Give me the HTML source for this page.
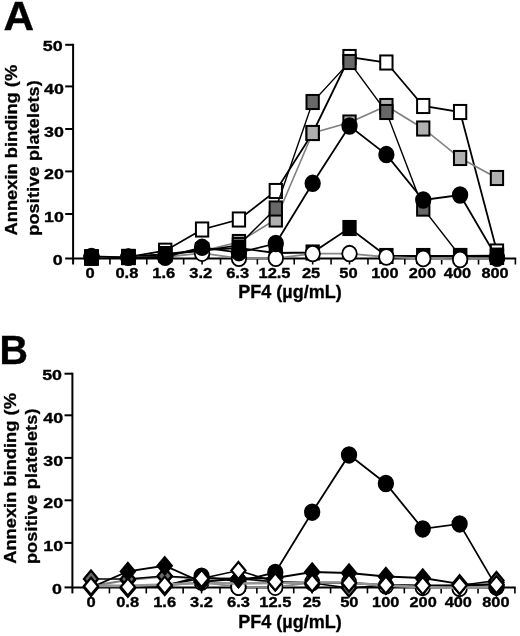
<!DOCTYPE html>
<html><head><meta charset="utf-8"><title>Figure</title>
<style>
html,body{margin:0;padding:0;background:#fff;}
svg{display:block;}
text{font-family:"Liberation Sans",Arial,sans-serif;font-weight:bold;fill:#000;}
.t{font-size:15px;stroke:#000;stroke-width:0.35px;}
.ty{font-size:15px;stroke:#000;stroke-width:0.35px;}
.l{font-size:18px;stroke:#000;stroke-width:0.3px;}
.big{font-size:40.5px;stroke:#000;stroke-width:0.4px;}
</style></head><body>
<svg width="520" height="636" viewBox="0 0 520 636">
<rect width="520" height="636" fill="#fff"/>
<line x1="73.1" y1="43.80" x2="73.1" y2="264.5" stroke="#000" stroke-width="2"/>
<line x1="72.20" y1="258.5" x2="516.20" y2="258.5" stroke="#000" stroke-width="2"/>
<line x1="65.20" y1="258.50" x2="73.1" y2="258.50" stroke="#000" stroke-width="2"/>
<text transform="translate(62.70 264.90) scale(1.19 1)" text-anchor="end" class="ty">0</text>
<line x1="65.20" y1="214.00" x2="73.1" y2="214.00" stroke="#000" stroke-width="2"/>
<text transform="translate(63.90 222.15) scale(1.19 1)" text-anchor="end" class="ty">10</text>
<line x1="65.20" y1="171.40" x2="73.1" y2="171.40" stroke="#000" stroke-width="2"/>
<text transform="translate(63.90 179.40) scale(1.19 1)" text-anchor="end" class="ty">20</text>
<line x1="65.20" y1="129.00" x2="73.1" y2="129.00" stroke="#000" stroke-width="2"/>
<text transform="translate(63.90 136.65) scale(1.19 1)" text-anchor="end" class="ty">30</text>
<line x1="65.20" y1="86.40" x2="73.1" y2="86.40" stroke="#000" stroke-width="2"/>
<text transform="translate(63.90 93.90) scale(1.19 1)" text-anchor="end" class="ty">40</text>
<line x1="65.20" y1="44.80" x2="73.1" y2="44.80" stroke="#000" stroke-width="2"/>
<text transform="translate(62.70 51.15) scale(1.19 1)" text-anchor="end" class="ty">50</text>
<line x1="91.50" y1="258.5" x2="91.50" y2="264.5" stroke="#000" stroke-width="1.6"/>
<line x1="109.93" y1="258.5" x2="109.93" y2="264.5" stroke="#000" stroke-width="1.6"/>
<line x1="128.36" y1="258.5" x2="128.36" y2="264.5" stroke="#000" stroke-width="1.6"/>
<line x1="146.79" y1="258.5" x2="146.79" y2="264.5" stroke="#000" stroke-width="1.6"/>
<line x1="165.22" y1="258.5" x2="165.22" y2="264.5" stroke="#000" stroke-width="1.6"/>
<line x1="183.65" y1="258.5" x2="183.65" y2="264.5" stroke="#000" stroke-width="1.6"/>
<line x1="202.08" y1="258.5" x2="202.08" y2="264.5" stroke="#000" stroke-width="1.6"/>
<line x1="220.51" y1="258.5" x2="220.51" y2="264.5" stroke="#000" stroke-width="1.6"/>
<line x1="238.94" y1="258.5" x2="238.94" y2="264.5" stroke="#000" stroke-width="1.6"/>
<line x1="257.37" y1="258.5" x2="257.37" y2="264.5" stroke="#000" stroke-width="1.6"/>
<line x1="275.80" y1="258.5" x2="275.80" y2="264.5" stroke="#000" stroke-width="1.6"/>
<line x1="294.23" y1="258.5" x2="294.23" y2="264.5" stroke="#000" stroke-width="1.6"/>
<line x1="312.66" y1="258.5" x2="312.66" y2="264.5" stroke="#000" stroke-width="1.6"/>
<line x1="331.09" y1="258.5" x2="331.09" y2="264.5" stroke="#000" stroke-width="1.6"/>
<line x1="349.52" y1="258.5" x2="349.52" y2="264.5" stroke="#000" stroke-width="1.6"/>
<line x1="367.95" y1="258.5" x2="367.95" y2="264.5" stroke="#000" stroke-width="1.6"/>
<line x1="386.38" y1="258.5" x2="386.38" y2="264.5" stroke="#000" stroke-width="1.6"/>
<line x1="404.81" y1="258.5" x2="404.81" y2="264.5" stroke="#000" stroke-width="1.6"/>
<line x1="423.24" y1="258.5" x2="423.24" y2="264.5" stroke="#000" stroke-width="1.6"/>
<line x1="441.67" y1="258.5" x2="441.67" y2="264.5" stroke="#000" stroke-width="1.6"/>
<line x1="460.10" y1="258.5" x2="460.10" y2="264.5" stroke="#000" stroke-width="1.6"/>
<line x1="478.53" y1="258.5" x2="478.53" y2="264.5" stroke="#000" stroke-width="1.6"/>
<line x1="496.96" y1="258.5" x2="496.96" y2="264.5" stroke="#000" stroke-width="1.6"/>
<line x1="515.39" y1="258.5" x2="515.39" y2="264.5" stroke="#000" stroke-width="1.6"/>
<text transform="translate(90.20 278.10) scale(1.1 1)" text-anchor="middle" class="t">0</text>
<text transform="translate(126.86 278.10) scale(1.1 1)" text-anchor="middle" class="t">0.8</text>
<text transform="translate(163.82 278.10) scale(1.1 1)" text-anchor="middle" class="t">1.6</text>
<text transform="translate(200.68 278.10) scale(1.1 1)" text-anchor="middle" class="t">3.2</text>
<text transform="translate(237.64 278.10) scale(1.1 1)" text-anchor="middle" class="t">6.3</text>
<text transform="translate(274.50 278.10) scale(1.1 1)" text-anchor="middle" class="t">12.5</text>
<text transform="translate(311.06 278.10) scale(1.1 1)" text-anchor="middle" class="t">25</text>
<text transform="translate(348.52 278.10) scale(1.1 1)" text-anchor="middle" class="t">50</text>
<text transform="translate(384.88 278.10) scale(1.09 1)" text-anchor="middle" class="t">100</text>
<text transform="translate(422.34 278.10) scale(1.09 1)" text-anchor="middle" class="t">200</text>
<text transform="translate(457.50 278.10) scale(1.09 1)" text-anchor="middle" class="t">400</text>
<text transform="translate(495.06 278.10) scale(1.09 1)" text-anchor="middle" class="t">800</text>
<text x="290" y="298.20" text-anchor="middle" class="l">PF4 (µg/mL)</text>
<text transform="translate(17.10 235.50) rotate(-90) scale(1.052 1)" class="l" style="font-size:17.4px">Annexin binding (%</text>
<text transform="translate(39.20 235.80) rotate(-90) scale(1.034 1)" class="l" style="font-size:17.4px;letter-spacing:0.2px">positive platelets)</text>
<text transform="translate(3.4 30.2) scale(1.045 1)" class="big">A</text>
<polyline fill="none" stroke="#000" stroke-width="1.8" points="91.50,257.50 128.36,257.00 165.22,250.70 202.08,229.50 238.94,219.50 275.80,191.00 312.66,133.00 349.52,57.00 386.38,62.50 423.24,106.00 460.10,112.00 496.96,251.50"/><rect x="85.35" y="250.45" width="12.3" height="14.1" fill="#fff" stroke="#000" stroke-width="2.0"/><rect x="122.21" y="249.95" width="12.3" height="14.1" fill="#fff" stroke="#000" stroke-width="2.0"/><rect x="159.07" y="243.65" width="12.3" height="14.1" fill="#fff" stroke="#000" stroke-width="2.0"/><rect x="195.93" y="222.45" width="12.3" height="14.1" fill="#fff" stroke="#000" stroke-width="2.0"/><rect x="232.79" y="212.45" width="12.3" height="14.1" fill="#fff" stroke="#000" stroke-width="2.0"/><rect x="269.65" y="183.95" width="12.3" height="14.1" fill="#fff" stroke="#000" stroke-width="2.0"/><rect x="306.51" y="125.95" width="12.3" height="14.1" fill="#fff" stroke="#000" stroke-width="2.0"/><rect x="343.37" y="49.95" width="12.3" height="14.1" fill="#fff" stroke="#000" stroke-width="2.0"/><rect x="380.23" y="55.45" width="12.3" height="14.1" fill="#fff" stroke="#000" stroke-width="2.0"/><rect x="417.09" y="98.95" width="12.3" height="14.1" fill="#fff" stroke="#000" stroke-width="2.0"/><rect x="453.95" y="104.95" width="12.3" height="14.1" fill="#fff" stroke="#000" stroke-width="2.0"/><rect x="490.81" y="244.45" width="12.3" height="14.1" fill="#fff" stroke="#000" stroke-width="2.0"/>
<polyline fill="none" stroke="#808080" stroke-width="1.6" points="91.50,257.50 128.36,257.00 165.22,254.20 202.08,251.00 238.94,242.00 275.80,219.50 312.66,133.00 349.52,122.50 386.38,106.00 423.24,128.50 460.10,158.00 496.96,178.00"/><rect x="85.35" y="250.45" width="12.3" height="14.1" fill="#b0b0b0" stroke="#000" stroke-width="2.0"/><rect x="122.21" y="249.95" width="12.3" height="14.1" fill="#b0b0b0" stroke="#000" stroke-width="2.0"/><rect x="159.07" y="247.15" width="12.3" height="14.1" fill="#b0b0b0" stroke="#000" stroke-width="2.0"/><rect x="195.93" y="243.95" width="12.3" height="14.1" fill="#b0b0b0" stroke="#000" stroke-width="2.0"/><rect x="232.79" y="234.95" width="12.3" height="14.1" fill="#b0b0b0" stroke="#000" stroke-width="2.0"/><rect x="269.65" y="212.45" width="12.3" height="14.1" fill="#b0b0b0" stroke="#000" stroke-width="2.0"/><rect x="306.51" y="125.95" width="12.3" height="14.1" fill="#b0b0b0" stroke="#000" stroke-width="2.0"/><rect x="343.37" y="115.45" width="12.3" height="14.1" fill="#b0b0b0" stroke="#000" stroke-width="2.0"/><rect x="380.23" y="98.95" width="12.3" height="14.1" fill="#b0b0b0" stroke="#000" stroke-width="2.0"/><rect x="417.09" y="121.45" width="12.3" height="14.1" fill="#b0b0b0" stroke="#000" stroke-width="2.0"/><rect x="453.95" y="150.95" width="12.3" height="14.1" fill="#b0b0b0" stroke="#000" stroke-width="2.0"/><rect x="490.81" y="170.95" width="12.3" height="14.1" fill="#b0b0b0" stroke="#000" stroke-width="2.0"/>
<polyline fill="none" stroke="#000" stroke-width="1.4" points="91.50,257.50 128.36,257.00 165.22,254.20 202.08,251.00 238.94,245.00 275.80,208.50 312.66,102.00 349.52,62.00 386.38,112.00 423.24,208.60 460.10,256.00 496.96,257.00"/><rect x="85.35" y="250.45" width="12.3" height="14.1" fill="#686868" stroke="#000" stroke-width="2.0"/><rect x="122.21" y="249.95" width="12.3" height="14.1" fill="#686868" stroke="#000" stroke-width="2.0"/><rect x="159.07" y="247.15" width="12.3" height="14.1" fill="#686868" stroke="#000" stroke-width="2.0"/><rect x="195.93" y="243.95" width="12.3" height="14.1" fill="#686868" stroke="#000" stroke-width="2.0"/><rect x="232.79" y="237.95" width="12.3" height="14.1" fill="#686868" stroke="#000" stroke-width="2.0"/><rect x="269.65" y="201.45" width="12.3" height="14.1" fill="#686868" stroke="#000" stroke-width="2.0"/><rect x="306.51" y="94.95" width="12.3" height="14.1" fill="#686868" stroke="#000" stroke-width="2.0"/><rect x="343.37" y="54.95" width="12.3" height="14.1" fill="#686868" stroke="#000" stroke-width="2.0"/><rect x="380.23" y="104.95" width="12.3" height="14.1" fill="#686868" stroke="#000" stroke-width="2.0"/><rect x="417.09" y="201.55" width="12.3" height="14.1" fill="#686868" stroke="#000" stroke-width="2.0"/><rect x="453.95" y="248.95" width="12.3" height="14.1" fill="#686868" stroke="#000" stroke-width="2.0"/><rect x="490.81" y="249.95" width="12.3" height="14.1" fill="#686868" stroke="#000" stroke-width="2.0"/>
<polyline fill="none" stroke="#000" stroke-width="1.8" points="91.50,257.50 128.36,257.00 165.22,254.20 202.08,250.00 238.94,248.00 275.80,253.00 312.66,252.50 349.52,228.00 386.38,256.00 423.24,256.00 460.10,256.00 496.96,255.60"/><rect x="85.35" y="250.45" width="12.3" height="14.1" fill="#000" stroke="#000" stroke-width="2.0"/><rect x="122.21" y="249.95" width="12.3" height="14.1" fill="#000" stroke="#000" stroke-width="2.0"/><rect x="159.07" y="247.15" width="12.3" height="14.1" fill="#000" stroke="#000" stroke-width="2.0"/><rect x="195.93" y="242.95" width="12.3" height="14.1" fill="#000" stroke="#000" stroke-width="2.0"/><rect x="232.79" y="240.95" width="12.3" height="14.1" fill="#000" stroke="#000" stroke-width="2.0"/><rect x="269.65" y="245.95" width="12.3" height="14.1" fill="#000" stroke="#000" stroke-width="2.0"/><rect x="306.51" y="245.45" width="12.3" height="14.1" fill="#000" stroke="#000" stroke-width="2.0"/><rect x="343.37" y="220.95" width="12.3" height="14.1" fill="#000" stroke="#000" stroke-width="2.0"/><rect x="380.23" y="248.95" width="12.3" height="14.1" fill="#000" stroke="#000" stroke-width="2.0"/><rect x="417.09" y="248.95" width="12.3" height="14.1" fill="#000" stroke="#000" stroke-width="2.0"/><rect x="453.95" y="248.95" width="12.3" height="14.1" fill="#000" stroke="#000" stroke-width="2.0"/><rect x="490.81" y="248.55" width="12.3" height="14.1" fill="#000" stroke="#000" stroke-width="2.0"/>
<polyline fill="none" stroke="#888" stroke-width="1.8" points="91.50,257.00 128.36,257.00 165.22,257.00 202.08,253.20 238.94,258.30 275.80,258.30 312.66,253.60 349.52,253.60 386.38,257.00 423.24,258.50 460.10,259.50 496.96,258.00"/><ellipse cx="91.50" cy="257.00" rx="7.25" ry="7.85" fill="#fff" stroke="#000" stroke-width="1.8"/><ellipse cx="128.36" cy="257.00" rx="7.25" ry="7.85" fill="#fff" stroke="#000" stroke-width="1.8"/><ellipse cx="165.22" cy="257.00" rx="7.25" ry="7.85" fill="#fff" stroke="#000" stroke-width="1.8"/><ellipse cx="202.08" cy="253.20" rx="7.25" ry="7.85" fill="#fff" stroke="#000" stroke-width="1.8"/><ellipse cx="238.94" cy="258.30" rx="7.25" ry="7.85" fill="#fff" stroke="#000" stroke-width="1.8"/><ellipse cx="275.80" cy="258.30" rx="7.25" ry="7.85" fill="#fff" stroke="#000" stroke-width="1.8"/><ellipse cx="312.66" cy="253.60" rx="7.25" ry="7.85" fill="#fff" stroke="#000" stroke-width="1.8"/><ellipse cx="349.52" cy="253.60" rx="7.25" ry="7.85" fill="#fff" stroke="#000" stroke-width="1.8"/><ellipse cx="386.38" cy="257.00" rx="7.25" ry="7.85" fill="#fff" stroke="#000" stroke-width="1.8"/><ellipse cx="423.24" cy="258.50" rx="7.25" ry="7.85" fill="#fff" stroke="#000" stroke-width="1.8"/><ellipse cx="460.10" cy="259.50" rx="7.25" ry="7.85" fill="#fff" stroke="#000" stroke-width="1.8"/><ellipse cx="496.96" cy="258.00" rx="7.25" ry="7.85" fill="#fff" stroke="#000" stroke-width="1.8"/>
<polyline fill="none" stroke="#000" stroke-width="1.8" points="91.50,256.50 128.36,257.30 165.22,257.00 202.08,247.30 238.94,252.70 275.80,243.50 312.66,183.30 349.52,126.00 386.38,154.60 423.24,200.00 460.10,195.00 496.96,258.00"/><ellipse cx="91.50" cy="256.50" rx="7.25" ry="7.85" fill="#000" stroke="#000" stroke-width="1.8"/><ellipse cx="128.36" cy="257.30" rx="7.25" ry="7.85" fill="#000" stroke="#000" stroke-width="1.8"/><ellipse cx="165.22" cy="257.00" rx="7.25" ry="7.85" fill="#000" stroke="#000" stroke-width="1.8"/><ellipse cx="202.08" cy="247.30" rx="7.25" ry="7.85" fill="#000" stroke="#000" stroke-width="1.8"/><ellipse cx="238.94" cy="252.70" rx="7.25" ry="7.85" fill="#000" stroke="#000" stroke-width="1.8"/><ellipse cx="275.80" cy="243.50" rx="7.25" ry="7.85" fill="#000" stroke="#000" stroke-width="1.8"/><ellipse cx="312.66" cy="183.30" rx="7.25" ry="7.85" fill="#000" stroke="#000" stroke-width="1.8"/><ellipse cx="349.52" cy="126.00" rx="7.25" ry="7.85" fill="#000" stroke="#000" stroke-width="1.8"/><ellipse cx="386.38" cy="154.60" rx="7.25" ry="7.85" fill="#000" stroke="#000" stroke-width="1.8"/><ellipse cx="423.24" cy="200.00" rx="7.25" ry="7.85" fill="#000" stroke="#000" stroke-width="1.8"/><ellipse cx="460.10" cy="195.00" rx="7.25" ry="7.85" fill="#000" stroke="#000" stroke-width="1.8"/><ellipse cx="496.96" cy="258.00" rx="7.25" ry="7.85" fill="#000" stroke="#000" stroke-width="1.8"/>
<line x1="72.4" y1="372.70" x2="72.4" y2="593.4" stroke="#000" stroke-width="2"/>
<line x1="71.50" y1="587.4" x2="515.70" y2="587.4" stroke="#000" stroke-width="2"/>
<line x1="64.50" y1="587.40" x2="72.4" y2="587.40" stroke="#000" stroke-width="2"/>
<text transform="translate(62.00 593.80) scale(1.19 1)" text-anchor="end" class="ty">0</text>
<line x1="64.50" y1="542.90" x2="72.4" y2="542.90" stroke="#000" stroke-width="2"/>
<text transform="translate(63.20 551.05) scale(1.19 1)" text-anchor="end" class="ty">10</text>
<line x1="64.50" y1="500.30" x2="72.4" y2="500.30" stroke="#000" stroke-width="2"/>
<text transform="translate(63.20 508.30) scale(1.19 1)" text-anchor="end" class="ty">20</text>
<line x1="64.50" y1="457.90" x2="72.4" y2="457.90" stroke="#000" stroke-width="2"/>
<text transform="translate(63.20 465.55) scale(1.19 1)" text-anchor="end" class="ty">30</text>
<line x1="64.50" y1="415.30" x2="72.4" y2="415.30" stroke="#000" stroke-width="2"/>
<text transform="translate(63.20 422.80) scale(1.19 1)" text-anchor="end" class="ty">40</text>
<line x1="64.50" y1="373.70" x2="72.4" y2="373.70" stroke="#000" stroke-width="2"/>
<text transform="translate(62.00 380.05) scale(1.19 1)" text-anchor="end" class="ty">50</text>
<line x1="91.00" y1="587.4" x2="91.00" y2="593.4" stroke="#000" stroke-width="1.6"/>
<line x1="109.43" y1="587.4" x2="109.43" y2="593.4" stroke="#000" stroke-width="1.6"/>
<line x1="127.86" y1="587.4" x2="127.86" y2="593.4" stroke="#000" stroke-width="1.6"/>
<line x1="146.29" y1="587.4" x2="146.29" y2="593.4" stroke="#000" stroke-width="1.6"/>
<line x1="164.72" y1="587.4" x2="164.72" y2="593.4" stroke="#000" stroke-width="1.6"/>
<line x1="183.15" y1="587.4" x2="183.15" y2="593.4" stroke="#000" stroke-width="1.6"/>
<line x1="201.58" y1="587.4" x2="201.58" y2="593.4" stroke="#000" stroke-width="1.6"/>
<line x1="220.01" y1="587.4" x2="220.01" y2="593.4" stroke="#000" stroke-width="1.6"/>
<line x1="238.44" y1="587.4" x2="238.44" y2="593.4" stroke="#000" stroke-width="1.6"/>
<line x1="256.87" y1="587.4" x2="256.87" y2="593.4" stroke="#000" stroke-width="1.6"/>
<line x1="275.30" y1="587.4" x2="275.30" y2="593.4" stroke="#000" stroke-width="1.6"/>
<line x1="293.73" y1="587.4" x2="293.73" y2="593.4" stroke="#000" stroke-width="1.6"/>
<line x1="312.16" y1="587.4" x2="312.16" y2="593.4" stroke="#000" stroke-width="1.6"/>
<line x1="330.59" y1="587.4" x2="330.59" y2="593.4" stroke="#000" stroke-width="1.6"/>
<line x1="349.02" y1="587.4" x2="349.02" y2="593.4" stroke="#000" stroke-width="1.6"/>
<line x1="367.45" y1="587.4" x2="367.45" y2="593.4" stroke="#000" stroke-width="1.6"/>
<line x1="385.88" y1="587.4" x2="385.88" y2="593.4" stroke="#000" stroke-width="1.6"/>
<line x1="404.31" y1="587.4" x2="404.31" y2="593.4" stroke="#000" stroke-width="1.6"/>
<line x1="422.74" y1="587.4" x2="422.74" y2="593.4" stroke="#000" stroke-width="1.6"/>
<line x1="441.17" y1="587.4" x2="441.17" y2="593.4" stroke="#000" stroke-width="1.6"/>
<line x1="459.60" y1="587.4" x2="459.60" y2="593.4" stroke="#000" stroke-width="1.6"/>
<line x1="478.03" y1="587.4" x2="478.03" y2="593.4" stroke="#000" stroke-width="1.6"/>
<line x1="496.46" y1="587.4" x2="496.46" y2="593.4" stroke="#000" stroke-width="1.6"/>
<line x1="514.89" y1="587.4" x2="514.89" y2="593.4" stroke="#000" stroke-width="1.6"/>
<text transform="translate(91.00 606.90) scale(1.1 1)" text-anchor="middle" class="t">0</text>
<text transform="translate(127.66 606.90) scale(1.1 1)" text-anchor="middle" class="t">0.8</text>
<text transform="translate(164.62 606.90) scale(1.1 1)" text-anchor="middle" class="t">1.6</text>
<text transform="translate(201.48 606.90) scale(1.1 1)" text-anchor="middle" class="t">3.2</text>
<text transform="translate(238.44 606.90) scale(1.1 1)" text-anchor="middle" class="t">6.3</text>
<text transform="translate(275.30 606.90) scale(1.1 1)" text-anchor="middle" class="t">12.5</text>
<text transform="translate(311.86 606.90) scale(1.1 1)" text-anchor="middle" class="t">25</text>
<text transform="translate(349.32 606.90) scale(1.1 1)" text-anchor="middle" class="t">50</text>
<text transform="translate(385.68 606.90) scale(1.09 1)" text-anchor="middle" class="t">100</text>
<text transform="translate(423.14 606.90) scale(1.09 1)" text-anchor="middle" class="t">200</text>
<text transform="translate(458.30 606.90) scale(1.09 1)" text-anchor="middle" class="t">400</text>
<text transform="translate(495.86 606.90) scale(1.09 1)" text-anchor="middle" class="t">800</text>
<text x="290" y="627.90" text-anchor="middle" class="l">PF4 (µg/mL)</text>
<text transform="translate(15.80 563.80) rotate(-90) scale(1.052 1)" class="l" style="font-size:17.4px">Annexin binding (%</text>
<text transform="translate(36.70 564.10) rotate(-90) scale(1.034 1)" class="l" style="font-size:17.4px;letter-spacing:0.2px">positive platelets)</text>
<text transform="translate(-0.6 363.8) scale(0.975 1)" class="big">B</text>
<polyline fill="none" stroke="#888" stroke-width="1.8" points="91.00,585.90 127.86,585.90 164.72,585.90 201.58,582.10 238.44,587.20 275.30,587.20 312.16,582.50 349.02,582.50 385.88,585.90 422.74,587.40 459.60,588.40 496.46,586.90"/><ellipse cx="201.58" cy="582.10" rx="7.25" ry="7.85" fill="#fff" stroke="#000" stroke-width="1.8"/><ellipse cx="238.44" cy="587.20" rx="7.25" ry="7.85" fill="#fff" stroke="#000" stroke-width="1.8"/><ellipse cx="275.30" cy="587.20" rx="7.25" ry="7.85" fill="#fff" stroke="#000" stroke-width="1.8"/><ellipse cx="312.16" cy="582.50" rx="7.25" ry="7.85" fill="#fff" stroke="#000" stroke-width="1.8"/><ellipse cx="349.02" cy="582.50" rx="7.25" ry="7.85" fill="#fff" stroke="#000" stroke-width="1.8"/><ellipse cx="385.88" cy="585.90" rx="7.25" ry="7.85" fill="#fff" stroke="#000" stroke-width="1.8"/><ellipse cx="422.74" cy="587.40" rx="7.25" ry="7.85" fill="#fff" stroke="#000" stroke-width="1.8"/><ellipse cx="459.60" cy="588.40" rx="7.25" ry="7.85" fill="#fff" stroke="#000" stroke-width="1.8"/><ellipse cx="496.46" cy="586.90" rx="7.25" ry="7.85" fill="#fff" stroke="#000" stroke-width="1.8"/>
<polyline fill="none" stroke="#000" stroke-width="1.8" points="91.00,585.40 127.86,586.20 164.72,585.90 201.58,576.20 238.44,581.60 275.30,572.40 312.16,512.20 349.02,454.90 385.88,483.50 422.74,528.90 459.60,523.90 496.46,586.90"/><ellipse cx="201.58" cy="576.20" rx="7.25" ry="7.85" fill="#000" stroke="#000" stroke-width="1.8"/><ellipse cx="238.44" cy="581.60" rx="7.25" ry="7.85" fill="#000" stroke="#000" stroke-width="1.8"/><ellipse cx="275.30" cy="572.40" rx="7.25" ry="7.85" fill="#000" stroke="#000" stroke-width="1.8"/><ellipse cx="312.16" cy="512.20" rx="7.25" ry="7.85" fill="#000" stroke="#000" stroke-width="1.8"/><ellipse cx="349.02" cy="454.90" rx="7.25" ry="7.85" fill="#000" stroke="#000" stroke-width="1.8"/><ellipse cx="385.88" cy="483.50" rx="7.25" ry="7.85" fill="#000" stroke="#000" stroke-width="1.8"/><ellipse cx="422.74" cy="528.90" rx="7.25" ry="7.85" fill="#000" stroke="#000" stroke-width="1.8"/><ellipse cx="459.60" cy="523.90" rx="7.25" ry="7.85" fill="#000" stroke="#000" stroke-width="1.8"/><ellipse cx="496.46" cy="586.90" rx="7.25" ry="7.85" fill="#000" stroke="#000" stroke-width="1.8"/>
<ellipse cx="238.44" cy="587.20" rx="7.25" ry="7.85" fill="#fff" stroke="#000" stroke-width="1.8"/>
<polyline fill="none" stroke="#808080" stroke-width="2.2" points="91.00,586.20 127.86,580.00 164.72,576.50 201.58,578.50 238.44,578.50 275.30,581.90 312.16,583.00 349.02,583.00 385.88,585.00 422.74,585.60 459.60,585.40 496.46,582.50"/><path d="M91.00 577.70L98.10 586.20L91.00 594.70L83.90 586.20Z" fill="#b0b0b0" stroke="#000" stroke-width="2.2" stroke-linejoin="miter"/><path d="M127.86 571.50L134.96 580.00L127.86 588.50L120.76 580.00Z" fill="#b0b0b0" stroke="#000" stroke-width="2.2" stroke-linejoin="miter"/><path d="M164.72 568.00L171.82 576.50L164.72 585.00L157.62 576.50Z" fill="#b0b0b0" stroke="#000" stroke-width="2.2" stroke-linejoin="miter"/><path d="M201.58 570.00L208.68 578.50L201.58 587.00L194.48 578.50Z" fill="#b0b0b0" stroke="#000" stroke-width="2.2" stroke-linejoin="miter"/><path d="M238.44 570.00L245.54 578.50L238.44 587.00L231.34 578.50Z" fill="#b0b0b0" stroke="#000" stroke-width="2.2" stroke-linejoin="miter"/><path d="M275.30 573.40L282.40 581.90L275.30 590.40L268.20 581.90Z" fill="#b0b0b0" stroke="#000" stroke-width="2.2" stroke-linejoin="miter"/><path d="M312.16 574.50L319.26 583.00L312.16 591.50L305.06 583.00Z" fill="#b0b0b0" stroke="#000" stroke-width="2.2" stroke-linejoin="miter"/><path d="M349.02 574.50L356.12 583.00L349.02 591.50L341.92 583.00Z" fill="#b0b0b0" stroke="#000" stroke-width="2.2" stroke-linejoin="miter"/><path d="M385.88 576.50L392.98 585.00L385.88 593.50L378.78 585.00Z" fill="#b0b0b0" stroke="#000" stroke-width="2.2" stroke-linejoin="miter"/><path d="M422.74 577.10L429.84 585.60L422.74 594.10L415.64 585.60Z" fill="#b0b0b0" stroke="#000" stroke-width="2.2" stroke-linejoin="miter"/><path d="M459.60 576.90L466.70 585.40L459.60 593.90L452.50 585.40Z" fill="#b0b0b0" stroke="#000" stroke-width="2.2" stroke-linejoin="miter"/><path d="M496.46 574.00L503.56 582.50L496.46 591.00L489.36 582.50Z" fill="#b0b0b0" stroke="#000" stroke-width="2.2" stroke-linejoin="miter"/>
<polyline fill="none" stroke="#000" stroke-width="1.4" points="91.00,579.00 127.86,579.00 164.72,576.00 201.58,578.50 238.44,578.50 275.30,581.90 312.16,583.00 349.02,588.00 385.88,585.00 422.74,585.60 459.60,585.40 496.46,580.50"/><path d="M91.00 570.50L98.10 579.00L91.00 587.50L83.90 579.00Z" fill="#686868" stroke="#000" stroke-width="2.2" stroke-linejoin="miter"/><path d="M127.86 570.50L134.96 579.00L127.86 587.50L120.76 579.00Z" fill="#686868" stroke="#000" stroke-width="2.2" stroke-linejoin="miter"/><path d="M164.72 567.50L171.82 576.00L164.72 584.50L157.62 576.00Z" fill="#686868" stroke="#000" stroke-width="2.2" stroke-linejoin="miter"/><path d="M201.58 570.00L208.68 578.50L201.58 587.00L194.48 578.50Z" fill="#686868" stroke="#000" stroke-width="2.2" stroke-linejoin="miter"/><path d="M238.44 570.00L245.54 578.50L238.44 587.00L231.34 578.50Z" fill="#686868" stroke="#000" stroke-width="2.2" stroke-linejoin="miter"/><path d="M275.30 573.40L282.40 581.90L275.30 590.40L268.20 581.90Z" fill="#686868" stroke="#000" stroke-width="2.2" stroke-linejoin="miter"/><path d="M312.16 574.50L319.26 583.00L312.16 591.50L305.06 583.00Z" fill="#686868" stroke="#000" stroke-width="2.2" stroke-linejoin="miter"/><path d="M349.02 579.50L356.12 588.00L349.02 596.50L341.92 588.00Z" fill="#686868" stroke="#000" stroke-width="2.2" stroke-linejoin="miter"/><path d="M385.88 576.50L392.98 585.00L385.88 593.50L378.78 585.00Z" fill="#686868" stroke="#000" stroke-width="2.2" stroke-linejoin="miter"/><path d="M422.74 577.10L429.84 585.60L422.74 594.10L415.64 585.60Z" fill="#686868" stroke="#000" stroke-width="2.2" stroke-linejoin="miter"/><path d="M459.60 576.90L466.70 585.40L459.60 593.90L452.50 585.40Z" fill="#686868" stroke="#000" stroke-width="2.2" stroke-linejoin="miter"/><path d="M496.46 572.00L503.56 580.50L496.46 589.00L489.36 580.50Z" fill="#686868" stroke="#000" stroke-width="2.2" stroke-linejoin="miter"/>
<polyline fill="none" stroke="#000" stroke-width="1.8" points="91.00,587.50 127.86,571.40 164.72,565.80 201.58,582.00 238.44,578.50 275.30,578.00 312.16,572.00 349.02,573.00 385.88,576.50 422.74,578.00 459.60,583.80 496.46,587.00"/>
<polyline fill="none" stroke="#000" stroke-width="1.6" points="91.00,586.20 127.86,587.00 164.72,585.10 201.58,578.50 238.44,570.50 275.30,581.90 312.16,583.00 349.02,583.00 385.88,585.00 422.74,585.60 459.60,585.40 496.46,584.60"/>
<polyline fill="none" stroke="#949494" stroke-width="2.6" points="91.00,585.90 127.86,585.90 164.72,584.50 201.58,583.00 238.44,583.50 275.30,583.00 312.16,582.50 349.02,582.50 385.88,585.50 422.74,587.00 459.60,588.00 496.46,586.50"/>
<path d="M91.00 579.00L98.10 587.50L91.00 596.00L83.90 587.50Z" fill="#000" stroke="#000" stroke-width="2.2" stroke-linejoin="miter"/><path d="M127.86 562.90L134.96 571.40L127.86 579.90L120.76 571.40Z" fill="#000" stroke="#000" stroke-width="2.2" stroke-linejoin="miter"/><path d="M164.72 557.30L171.82 565.80L164.72 574.30L157.62 565.80Z" fill="#000" stroke="#000" stroke-width="2.2" stroke-linejoin="miter"/><path d="M201.58 573.50L208.68 582.00L201.58 590.50L194.48 582.00Z" fill="#000" stroke="#000" stroke-width="2.2" stroke-linejoin="miter"/><path d="M238.44 570.00L245.54 578.50L238.44 587.00L231.34 578.50Z" fill="#000" stroke="#000" stroke-width="2.2" stroke-linejoin="miter"/><path d="M275.30 569.50L282.40 578.00L275.30 586.50L268.20 578.00Z" fill="#000" stroke="#000" stroke-width="2.2" stroke-linejoin="miter"/><path d="M312.16 563.50L319.26 572.00L312.16 580.50L305.06 572.00Z" fill="#000" stroke="#000" stroke-width="2.2" stroke-linejoin="miter"/><path d="M349.02 564.50L356.12 573.00L349.02 581.50L341.92 573.00Z" fill="#000" stroke="#000" stroke-width="2.2" stroke-linejoin="miter"/><path d="M385.88 568.00L392.98 576.50L385.88 585.00L378.78 576.50Z" fill="#000" stroke="#000" stroke-width="2.2" stroke-linejoin="miter"/><path d="M422.74 569.50L429.84 578.00L422.74 586.50L415.64 578.00Z" fill="#000" stroke="#000" stroke-width="2.2" stroke-linejoin="miter"/><path d="M459.60 575.30L466.70 583.80L459.60 592.30L452.50 583.80Z" fill="#000" stroke="#000" stroke-width="2.2" stroke-linejoin="miter"/><path d="M496.46 578.50L503.56 587.00L496.46 595.50L489.36 587.00Z" fill="#000" stroke="#000" stroke-width="2.2" stroke-linejoin="miter"/>
<path d="M127.86 579.90L134.96 588.40L127.86 596.90L120.76 588.40Z" fill="#000" stroke="#000" stroke-width="2.2" stroke-linejoin="miter"/>
<path d="M164.72 578.10L171.82 586.60L164.72 595.10L157.62 586.60Z" fill="#000" stroke="#000" stroke-width="2.2" stroke-linejoin="miter"/>
<path d="M91.00 577.70L98.10 586.20L91.00 594.70L83.90 586.20Z" fill="#fff" stroke="#000" stroke-width="2.2" stroke-linejoin="miter"/><path d="M127.86 578.50L134.96 587.00L127.86 595.50L120.76 587.00Z" fill="#fff" stroke="#000" stroke-width="2.2" stroke-linejoin="miter"/><path d="M164.72 576.60L171.82 585.10L164.72 593.60L157.62 585.10Z" fill="#fff" stroke="#000" stroke-width="2.2" stroke-linejoin="miter"/><path d="M201.58 570.00L208.68 578.50L201.58 587.00L194.48 578.50Z" fill="#fff" stroke="#000" stroke-width="2.2" stroke-linejoin="miter"/><path d="M238.44 562.00L245.54 570.50L238.44 579.00L231.34 570.50Z" fill="#fff" stroke="#000" stroke-width="2.2" stroke-linejoin="miter"/><path d="M275.30 573.40L282.40 581.90L275.30 590.40L268.20 581.90Z" fill="#fff" stroke="#000" stroke-width="2.2" stroke-linejoin="miter"/><path d="M312.16 574.50L319.26 583.00L312.16 591.50L305.06 583.00Z" fill="#fff" stroke="#000" stroke-width="2.2" stroke-linejoin="miter"/><path d="M349.02 574.50L356.12 583.00L349.02 591.50L341.92 583.00Z" fill="#fff" stroke="#000" stroke-width="2.2" stroke-linejoin="miter"/><path d="M385.88 576.50L392.98 585.00L385.88 593.50L378.78 585.00Z" fill="#fff" stroke="#000" stroke-width="2.2" stroke-linejoin="miter"/><path d="M422.74 577.10L429.84 585.60L422.74 594.10L415.64 585.60Z" fill="#fff" stroke="#000" stroke-width="2.2" stroke-linejoin="miter"/><path d="M459.60 576.90L466.70 585.40L459.60 593.90L452.50 585.40Z" fill="#fff" stroke="#000" stroke-width="2.2" stroke-linejoin="miter"/><path d="M496.46 576.10L503.56 584.60L496.46 593.10L489.36 584.60Z" fill="#fff" stroke="#000" stroke-width="2.2" stroke-linejoin="miter"/>
</svg>
</body></html>
